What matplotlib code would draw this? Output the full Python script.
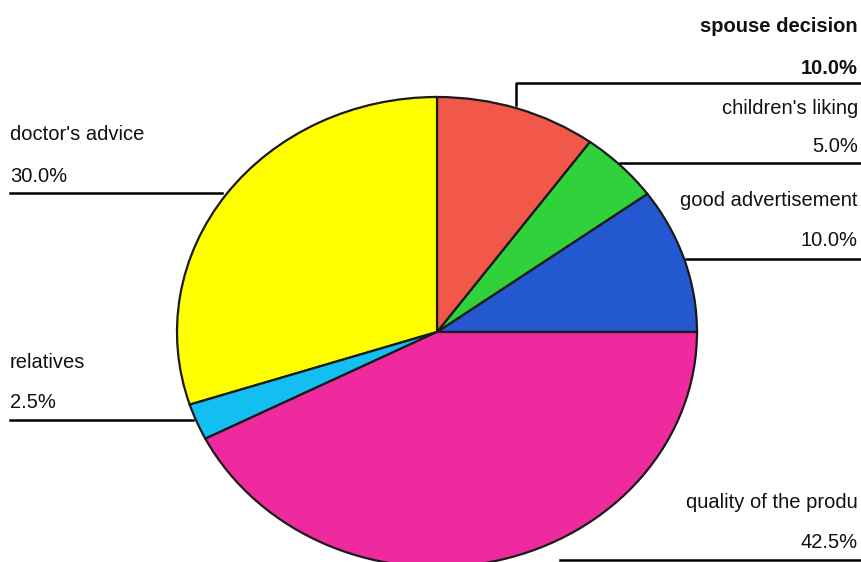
import matplotlib.pyplot as plt

# survey shares, drawn counter-clockwise from 3 o'clock
labels = ["good advertisement", "children's liking", "spouse decision",
          "doctor's advice", "relatives", "quality of the produ"]
shares = [10.0, 5.0, 10.0, 30.0, 2.5, 42.5]
colors = ["#2358d0", "#2fd23a", "#f2584a", "#ffff00", "#12bff0", "#ee2a9e"]

W, H = 862, 562
cx, cy, rx, ry = 437, 332, 260, 235

plt.rcParams['font.family'] = ['Liberation Sans', 'DejaVu Sans']

fig = plt.figure(figsize=(W / 100, H / 100), dpi=100)

# pie axes: one data unit equals rx pixels across and ry pixels down
ax = fig.add_axes([0, 0, 1, 1])
ax.pie(shares, colors=colors, startangle=0, counterclock=True,
       wedgeprops=dict(edgecolor="#1a1a1a", linewidth=1.6))
ax.set_aspect('auto')
ax.set_xlim(-cx / rx, (W - cx) / rx)
ax.set_ylim(-(H - cy) / ry, cy / ry)
ax.axis('off')

# overlay in pixel units for labels and leader lines
ov = fig.add_axes([0, 0, 1, 1])
ov.set_xlim(0, W)
ov.set_ylim(H, 0)
ov.axis('off')

lw = 1.8
fs = 14.5
# (text, value, x, align, name y, value y, bold)
placements = [
    (labels[2], shares[2], 858, 'right', 26, 68, True),
    (labels[1], shares[1], 858, 'right', 108, 147, False),
    (labels[0], shares[0], 858, 'right', 201, 241, False),
    (labels[3], shares[3], 10, 'left', 134, 177, False),
    (labels[4], shares[4], 10, 'left', 363, 402, False),
    (labels[5], shares[5], 858, 'right', 503, 543, False),
]
for name, val, x, ha, y1, y2, bold in placements:
    fw = 'bold' if bold else 'normal'
    ov.text(x, y1, name, ha=ha, va='center', fontsize=fs, fontweight=fw,
            color='#111111')
    ov.text(x, y2, f"{val:.1f}%", ha=ha, va='center', fontsize=fs,
            fontweight=fw, color='#111111')

# leader lines
ov.plot([516, 516, 862], [105, 83, 83], color='black', lw=lw)
ov.plot([620, 862], [163, 163], color='black', lw=lw)
ov.plot([686, 862], [259, 259], color='black', lw=lw)
ov.plot([10, 222], [193, 193], color='black', lw=lw)
ov.plot([10, 193], [420, 420], color='black', lw=lw)
ov.plot([560, 862], [560, 560], color='black', lw=lw)

fig.savefig("out.png", dpi=100)
